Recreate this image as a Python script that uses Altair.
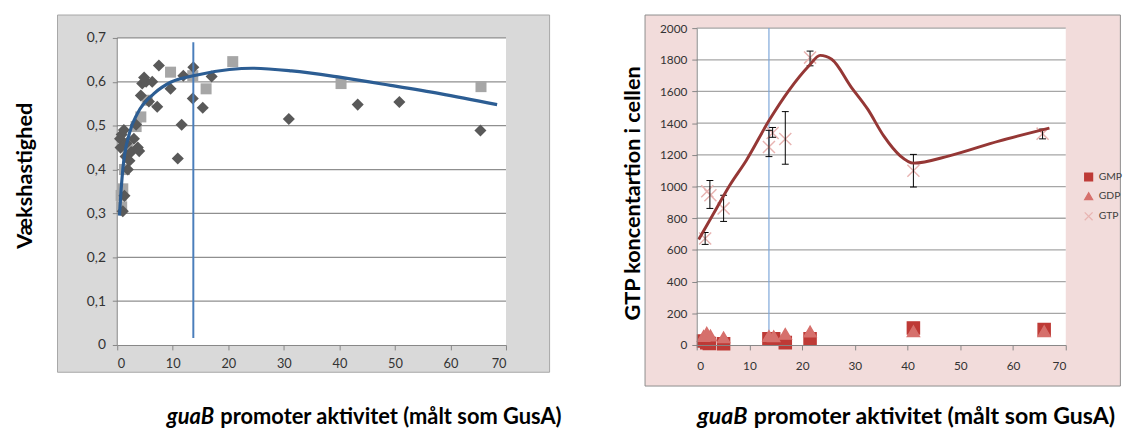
import altair as alt
import pandas as pd

# ---------------- left panel data ----------------
left_diamond_x = [0.5, 0.6, 0.8, 1.0, 1.2, 1.3, 1.5, 1.7, 1.9, 2.2, 2.5, 3.0, 3.4, 3.7, 3.95, 4.25, 4.5, 4.84, 5.2, 5.7,
                  6.3, 7.2, 7.5, 9.6, 10.9, 11.6, 11.9, 13.6, 13.7, 15.4, 17.0, 30.9, 43.3, 50.8, 65.4]
left_diamond_y = [0.47, 0.45, 0.48, 0.305, 0.49, 0.34, 0.43, 0.46, 0.40, 0.42, 0.44, 0.47, 0.502, 0.45, 0.442, 0.569, 0.596, 0.61, 0.60, 0.555,
                  0.60, 0.543, 0.637, 0.584, 0.425, 0.502, 0.614, 0.562, 0.633, 0.541, 0.612, 0.515, 0.548, 0.554, 0.489]
left_square_x = [0.7, 0.8, 1.0, 1.3, 1.9, 3.4, 4.25, 5.4, 9.6, 13.6, 16.0, 20.8, 40.3, 65.5]
left_square_y = [0.341, 0.315, 0.356, 0.40, 0.446, 0.498, 0.52, 0.558, 0.622, 0.614, 0.584, 0.646, 0.596, 0.589]
left_fit_x = [0.4, 0.71, 1.0, 2.2, 3.65, 6.6, 9.6, 13.7, 20.2, 24.3, 31.4, 40.3, 49.2, 58.1, 68.4]
left_fit_y = [0.295, 0.356, 0.40, 0.483, 0.528, 0.573, 0.599, 0.614, 0.628, 0.631, 0.625, 0.61, 0.592, 0.573, 0.548]
left_marker_x = 13.7
left_marker_y = [0.016, 0.69]
left_yticks = [0, 0.1, 0.2, 0.3, 0.4, 0.5, 0.6, 0.7]
xticks = [0, 10, 20, 30, 40, 50, 60, 70]

# ---------------- right panel data ----------------
series_names = ["GMP", "GDP", "GTP"]
gmp_x = [1.3, 1.9, 2.4, 5.1, 13.7, 14.6, 16.8, 21.5, 41.1, 65.9]
gmp_y = [25, 15, 10, 8, 40, 40, 15, 40, 108, 97]
gdp_x = [1.3, 1.9, 2.6, 5.1, 13.7, 14.6, 16.8, 21.5, 41.1, 65.9]
gdp_y = [57, 77, 60, 48, 57, 55, 70, 85, 87, 87]
gtp_x = [1.6, 2.0, 2.6, 5.1, 13.7, 14.4, 16.8, 21.5, 41.1, 65.6]
gtp_y = [672, 970, 945, 862, 1250, 1338, 1300, 1814, 1100, 1334]
err_x = [1.6, 2.5, 5.1, 13.7, 14.4, 16.8, 21.5, 41.1, 65.6]
err_lo = [635, 862, 780, 1189, 1311, 1141, 1762, 997, 1301]
err_hi = [710, 1038, 945, 1355, 1373, 1473, 1855, 1203, 1363]
gtp_fit_x = [0.37, 3.2, 6.3, 9.4, 13.8, 17.5, 21.3, 23.4, 25.6, 29.3, 32.4, 35.5, 38.6, 41.1, 47.9, 57.3, 66.9]
gtp_fit_y = [666, 830, 1010, 1165, 1421, 1607, 1762, 1828, 1803, 1628, 1490, 1318, 1194, 1148, 1194, 1287, 1369]
right_marker_x = 13.7
right_marker_y = [0, 2000]
right_yticks = [0, 200, 400, 600, 800, 1000, 1200, 1400, 1600, 1800, 2000]

left_ytitle = "Vækshastighed"
right_ytitle = "GTP koncentartion  i cellen"
xtitle_italic = "guaB"
xtitle_rest = "promoter aktivitet (målt som GusA)"

# ---------------- styling ----------------
FONT = "Lato"
W1, W2, H = 395, 375, 322
Y1TOP = 0.7 * H / (H - 10)          # so that 0.7 sits 10px below the top
Y07PX = H * (1 - 0.7 / Y1TOP)
GRID1 = "#8f8f8f"
GRID2 = "#a6a6a6"
LABEL = "#333333"

one = pd.DataFrame({"k": [0]})

xscale = alt.Scale(domain=[0, 70], nice=False, zero=False)
y1scale = alt.Scale(domain=[0, Y1TOP], nice=False)
y2scale = alt.Scale(domain=[0, 2000], nice=False)


def xaxis(size, pad):
    return alt.Axis(values=xticks, title=None, grid=False, domainColor="#868686", tickColor="#868686",
                    tickSize=5, labelFont=FONT, labelFontSize=size, labelColor=LABEL, labelPadding=pad,
                    zindex=1, format="d")


y1axis = alt.Axis(values=left_yticks, title=None, grid=False, domain=False, tickColor="#868686", tickSize=5,
                  labelFont=FONT, labelFontSize=14, labelColor=LABEL, labelPadding=7, zindex=1,
                  labelExpr="datum.value == 0 ? '0' : replace(format(datum.value, '.1f'), '.', ',')")
y2axis = alt.Axis(values=right_yticks, title=None, grid=False, domainColor="#868686", tickColor="#868686",
                  tickSize=5, labelFont=FONT, labelFontSize=12, labelColor=LABEL, labelPadding=5, zindex=1,
                  format="d")


def box(x0, x1, y0, y1, fill, stroke=None):
    kw = dict(fill=fill)
    if stroke:
        kw.update(stroke=stroke, strokeWidth=1)
    return alt.Chart(one).mark_rect(**kw).encode(
        x=alt.value(x0), x2=alt.value(x1), y=alt.value(y0), y2=alt.value(y1))


def label(text, x, y, size, italic=False, angle=0, align="left"):
    kw = dict(font=FONT, fontSize=size, fontWeight="bold", color="#000000", align=align, baseline="middle")
    if italic:
        kw["fontStyle"] = "italic"
    if angle:
        kw["angle"] = angle
    return alt.Chart(one).mark_text(**kw).encode(x=alt.value(x), y=alt.value(y), text=alt.value(text))


# ---------------- left chart ----------------
ldia = pd.DataFrame({"x": left_diamond_x, "y": left_diamond_y})
lsq = pd.DataFrame({"x": left_square_x, "y": left_square_y})
lfit = pd.DataFrame({"x": left_fit_x, "y": left_fit_y})
lgrid = pd.DataFrame({"v": left_yticks[1:]})
lmark = pd.DataFrame({"x": [left_marker_x], "y": [left_marker_y[0]], "y2": [left_marker_y[1]]})
lx = xaxis(13, 8)
LT = 22.2

left = alt.layer(
    box(-60.7, 439.3, -13.3, 349.7, "#d9d9d9", "#a6a6a6"),
    box(0, W1, Y07PX, H, "#ffffff"),
    alt.Chart(lgrid).mark_rule(color=GRID1, strokeWidth=1.3).encode(
        y=alt.Y("v:Q", scale=y1scale, axis=y1axis), x=alt.value(0), x2=alt.value(W1)),
    alt.Chart(one).mark_rule(color="#868686", strokeWidth=1).encode(
        x=alt.value(0), y=alt.value(Y07PX), y2=alt.value(H)),
    alt.Chart(lsq).mark_point(shape="square", filled=True, size=125, color="#a6a6a6", opacity=1).encode(
        x=alt.X("x:Q", scale=xscale, axis=lx), y=alt.Y("y:Q", scale=y1scale, axis=y1axis)),
    alt.Chart(ldia).mark_point(shape="diamond", filled=True, size=150, color="#595959", opacity=1).encode(
        x=alt.X("x:Q", scale=xscale, axis=lx), y=alt.Y("y:Q", scale=y1scale, axis=y1axis)),
    alt.Chart(lmark).mark_rule(color="#4a7ebb", strokeWidth=2).encode(
        x=alt.X("x:Q", scale=xscale, axis=lx), y=alt.Y("y:Q", scale=y1scale, axis=y1axis), y2="y2:Q"),
    alt.Chart(lfit).mark_line(color="#2c5d93", strokeWidth=3.2, interpolate="monotone").encode(
        x=alt.X("x:Q", scale=xscale, axis=lx), y=alt.Y("y:Q", scale=y1scale, axis=y1axis)),
    label(left_ytitle, -94, 150, 22, angle=270, align="center"),
    label(xtitle_italic, 50.3, 395, LT, italic=True),
    label(xtitle_rest, 50.3 + LT * 2.45, 395, LT),
).properties(width=W1, height=H)

# ---------------- right chart ----------------
pts = pd.concat([
    pd.DataFrame({"x": gmp_x, "y": gmp_y, "s": "GMP"}),
    pd.DataFrame({"x": gdp_x, "y": gdp_y, "s": "GDP"}),
    pd.DataFrame({"x": gtp_x, "y": gtp_y, "s": "GTP"}),
], ignore_index=True)
pts["o"] = range(len(pts))
errs = pd.DataFrame({"x": err_x, "lo": err_lo, "hi": err_hi})
rfit = pd.DataFrame({"x": gtp_fit_x, "y": gtp_fit_y})
rgrid = pd.DataFrame({"v": right_yticks[1:]})
rmark = pd.DataFrame({"x": [right_marker_x], "y": [right_marker_y[0]], "y2": [right_marker_y[1]]})

fills = ["#be3a36", "#d6706c", "#e8b4b2"]
shapes = ["square", "triangle-up", "M-1,-1L1,1M1,-1L-1,1"]
lg = alt.Legend(orient="none", legendX=393, legendY=146, title=None, labelFont=FONT, labelFontSize=10.5,
                labelColor="#404040", symbolSize=64, rowPadding=6.5, labelOffset=5, padding=0,
                symbolStrokeWidth=1.3)
rx = xaxis(12, 11)
RT = 23.5

right = alt.layer(
    box(-52.5, 430.5, -13.3, 363.7, "#f2dcdb", "#8c8c8c"),
    box(0, W2, 0, H, "#ffffff"),
    alt.Chart(rgrid).mark_rule(color=GRID2, strokeWidth=1.3).encode(
        y=alt.Y("v:Q", scale=y2scale, axis=y2axis), x=alt.value(0), x2=alt.value(W2)),
    alt.Chart(rmark).mark_rule(color="#7da7d9", strokeWidth=1.2).encode(
        x=alt.X("x:Q", scale=xscale, axis=rx), y=alt.Y("y:Q", scale=y2scale, axis=y2axis), y2="y2:Q"),
    alt.Chart(pts).mark_point(filled=True, size=150, strokeWidth=1.5, opacity=1).encode(
        x=alt.X("x:Q", scale=xscale, axis=rx), y=alt.Y("y:Q", scale=y2scale, axis=y2axis),
        fill=alt.Fill("s:N", scale=alt.Scale(domain=series_names, range=fills), legend=lg),
        stroke=alt.Stroke("s:N", scale=alt.Scale(domain=series_names, range=fills), legend=lg),
        shape=alt.Shape("s:N", scale=alt.Scale(domain=series_names, range=shapes), legend=lg),
        order="o:Q"),
    alt.Chart(errs).mark_rule(color="#000000", strokeWidth=1).encode(
        x=alt.X("x:Q", scale=xscale, axis=rx), y=alt.Y("lo:Q", scale=y2scale, axis=y2axis), y2="hi:Q"),
    alt.Chart(errs).mark_tick(orient="horizontal", size=7, thickness=1, color="#000000", opacity=1).encode(
        x=alt.X("x:Q", scale=xscale, axis=rx), y=alt.Y("lo:Q", scale=y2scale, axis=y2axis)),
    alt.Chart(errs).mark_tick(orient="horizontal", size=7, thickness=1, color="#000000", opacity=1).encode(
        x=alt.X("x:Q", scale=xscale, axis=rx), y=alt.Y("hi:Q", scale=y2scale, axis=y2axis)),
    alt.Chart(rfit).mark_line(color="#953735", strokeWidth=3, interpolate="monotone").encode(
        x=alt.X("x:Q", scale=xscale, axis=rx), y=alt.Y("y:Q", scale=y2scale, axis=y2axis)),
    label(right_ytitle, -65, 168, 22, angle=270, align="center"),
    label(xtitle_italic, 0.5, 395, RT, italic=True),
    label(xtitle_rest, 0.5 + RT * 2.45, 395, RT),
).properties(width=W2, height=H)

chart = alt.hconcat(left, right, spacing=193.8, bounds="flush").resolve_scale(
    fill="independent", stroke="independent", shape="independent"
).properties(
    padding={"left": 5, "top": 2, "right": 2, "bottom": 2}
).configure_view(stroke=None).configure(background="#ffffff")

chart.save("out.html", embed_options={"renderer": "svg", "actions": False})
